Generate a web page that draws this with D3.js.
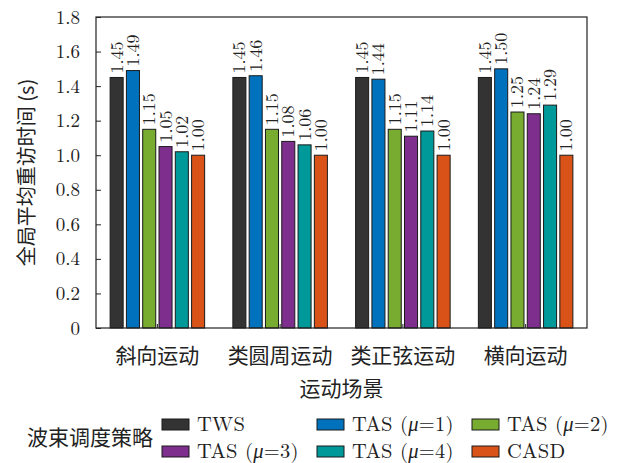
<!DOCTYPE html>
<html>
<head>
<meta charset="utf-8">
<script src="https://cdn.jsdelivr.net/npm/d3@7"></script>
<style>
  html, body { margin: 0; padding: 0; background: #fff; }
  svg { display: block; }
</style>
</head>
<body>
<svg id="chart" width="631" height="463"></svg>
<script>
// Scenarios (x categories)
const scenarios = ["斜向运动", "类圆周运动", "类正弦运动", "横向运动"];
// Beam scheduling strategies (series)
const strategies = ["TWS", "TAS (μ=1)", "TAS (μ=2)", "TAS (μ=3)", "TAS (μ=4)", "CASD"];
const colors = ["#333333", "#0072BD", "#77AC30", "#7E2F8E", "#009999", "#D95319"];
// Global mean revisit time (s), one array per strategy, across scenarios
const tws  = [1.45, 1.45, 1.45, 1.45];
const tas1 = [1.49, 1.46, 1.44, 1.50];
const tas2 = [1.15, 1.15, 1.15, 1.25];
const tas3 = [1.05, 1.08, 1.11, 1.24];
const tas4 = [1.02, 1.06, 1.14, 1.29];
const casd = [1.00, 1.00, 1.00, 1.00];
const seriesValues = [tws, tas1, tas2, tas3, tas4, casd];
const yTicks = [0, 0.2, 0.4, 0.6, 0.8, 1.0, 1.2, 1.4, 1.6, 1.8];
const yTickLabels = ["0", "0.2", "0.4", "0.6", "0.8", "1.0", "1.2", "1.4", "1.6", "1.8"];

const serif = "'Latin Modern Roman','CMU Serif','Liberation Serif','DejaVu Serif',serif";
const cjk = "'Noto Sans CJK SC','Noto Sans',sans-serif";
const ink = "#222";

const margin = { left: 96, top: 17, right: 44, bottom: 135 };
const W = 631, H = 463;
const iw = W - margin.left - margin.right;
const ih = H - margin.top - margin.bottom;

const svg = d3.select("#chart");
const g = svg.append("g").attr("transform", `translate(${margin.left},${margin.top})`);

const x0 = d3.scaleBand().domain(scenarios).range([0, iw]).padding(0);
const x1 = d3.scaleBand().domain(d3.range(strategies.length))
  .range([x0.bandwidth() * 0.115, x0.bandwidth() * 0.885]).paddingInner(0.2).paddingOuter(0);
const y = d3.scaleLinear().domain([0, 1.8]).range([ih, 0]);

// Bars and rotated value labels
scenarios.forEach((sc, i) => {
  const grp = g.append("g").attr("transform", `translate(${x0(sc)},0)`);
  seriesValues.forEach((vals, s) => {
    const v = vals[i];
    grp.append("rect")
      .attr("x", x1(s))
      .attr("y", y(v))
      .attr("width", x1.bandwidth())
      .attr("height", y(0) - y(v))
      .attr("fill", colors[s])
      .attr("stroke", "#1a1a1a")
      .attr("stroke-width", 1);
    const cx = x1(s) + x1.bandwidth() / 2;
    grp.append("text")
      .attr("transform", `translate(${cx + 6},${y(v) - 4}) rotate(-90)`)
      .attr("font-family", serif)
      .attr("font-size", 18)
      .attr("fill", ink)
      .text(v.toFixed(2));
  });
});

// Axes
const yAxis = d3.axisLeft(y).tickValues(yTicks)
  .tickFormat((d, i) => yTickLabels[i]).tickSizeInner(-5).tickSizeOuter(0).tickPadding(16);
const ya = g.append("g").call(yAxis);
ya.select(".domain").remove();
ya.selectAll("line").attr("stroke", ink);
ya.selectAll("text").attr("font-family", serif).attr("font-size", 19).attr("fill", ink);

const xAxis = d3.axisBottom(x0).tickSizeInner(-4).tickSizeOuter(0).tickPadding(20);
const xa = g.append("g").attr("transform", `translate(0,${ih})`).call(xAxis);
xa.select(".domain").remove();
xa.selectAll("line").attr("stroke", ink);
xa.selectAll("text").attr("font-family", cjk).attr("font-size", 21).attr("fill", ink);

// Frame
g.append("rect").attr("x", 0).attr("y", 0).attr("width", iw).attr("height", ih)
  .attr("fill", "none").attr("stroke", ink).attr("stroke-width", 1.2);

// Axis titles
svg.append("text")
  .attr("transform", `translate(34,${margin.top + ih / 2}) rotate(-90)`)
  .attr("text-anchor", "middle")
  .attr("font-family", cjk).attr("font-size", 20).attr("fill", ink)
  .text("全局平均重访时间 (s)");

svg.append("text")
  .attr("x", margin.left + iw / 2).attr("y", 396)
  .attr("text-anchor", "middle")
  .attr("font-family", cjk).attr("font-size", 21).attr("fill", ink)
  .text("运动场景");

// Legend
svg.append("text")
  .attr("x", 27).attr("y", 445)
  .attr("font-family", cjk).attr("font-size", 21).attr("fill", ink)
  .text("波束调度策略");

const legCols = [162, 317, 472];
const legRows = [419, 446];
strategies.forEach((name, i) => {
  const col = i % 3, row = Math.floor(i / 3);
  const lx = legCols[col], ly = legRows[row];
  svg.append("rect")
    .attr("x", lx).attr("y", ly).attr("width", 27).attr("height", 11)
    .attr("fill", colors[i]).attr("stroke", "#1a1a1a").attr("stroke-width", 1);
  const t = svg.append("text")
    .attr("x", lx + 35).attr("y", ly + 11.5)
    .attr("font-family", serif).attr("font-size", 20.5).attr("letter-spacing", 0.3).attr("fill", ink);
  const m = name.match(/^(.*\()μ(=\d\))$/);
  if (m) {
    t.append("tspan").text(m[1]);
    t.append("tspan").attr("font-style", "italic").text("μ");
    t.append("tspan").text(m[2]);
  } else {
    t.text(name);
  }
});
</script>
</body>
</html>
